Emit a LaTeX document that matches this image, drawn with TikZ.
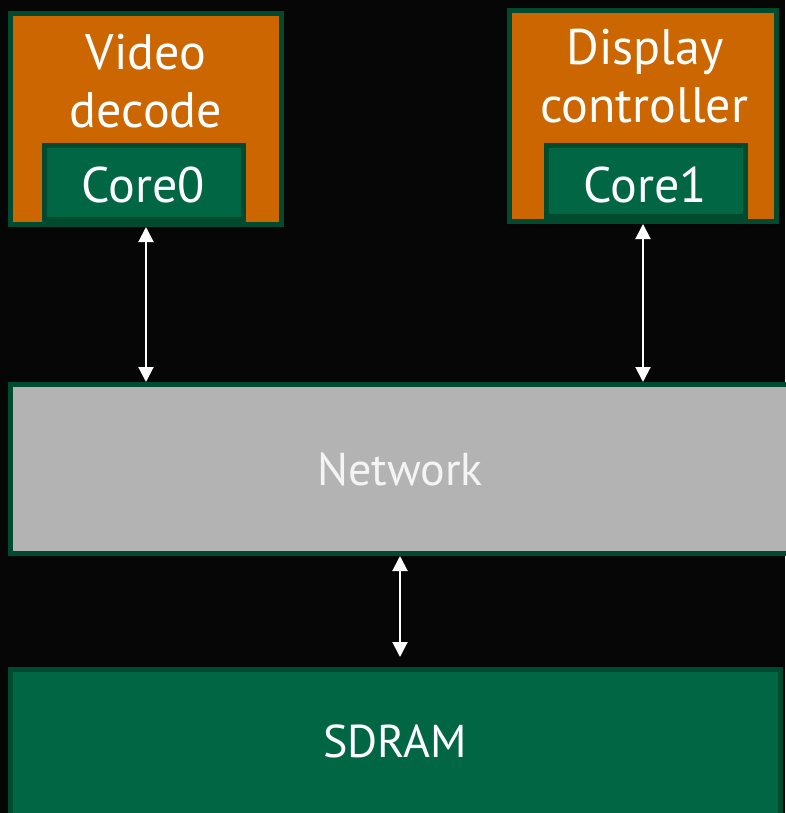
\documentclass[tikz,border=0pt]{standalone}
\usepackage{fontspec}
\setmainfont{PT Sans}
\usetikzlibrary{arrows.meta}

\definecolor{bgblack}{HTML}{060606}
\definecolor{blockorange}{HTML}{CC6600}
\definecolor{blockgreen}{HTML}{006644}
\definecolor{edgegreen}{HTML}{004A2F}
\definecolor{netgray}{HTML}{B3B3B3}
\definecolor{nettext}{HTML}{F4F4F4}

\tikzset{
  block/.style={draw=edgegreen, line width=5pt, inner sep=0pt, outer sep=2.5pt},
  unitbox/.style={block, fill=blockorange},
  corebox/.style={block, fill=blockgreen},
  netbox/.style={block, fill=netgray},
  membox/.style={block, fill=blockgreen},
  bigtext/.style={text=white, anchor=base, inner sep=0pt, font=\fontsize{50}{58}\selectfont},
  midtext/.style={anchor=base, inner sep=0pt, font=\fontsize{46}{54}\selectfont},
  link/.style={draw=white, line width=2pt, {Triangle[width=15pt,length=15pt]}-{Triangle[width=15pt,length=15pt]}}
}

\begin{document}
\begin{tikzpicture}[x=1pt, y=-1pt]
  % page and background
  \useasboundingbox (0,0) rectangle (785,813);
  \fill[bgblack] (0,0) rectangle (785,813);

  % processing units with their cores
  \node[unitbox, minimum width=271pt, minimum height=211pt] (vd) at (146,119) {};
  \node[corebox, minimum width=199pt, minimum height=74pt] (core0) at (144,182.5) {};
  \node[unitbox, minimum width=267pt, minimum height=211pt] (dc) at (643,116) {};
  \node[corebox, minimum width=199pt, minimum height=71pt] (core1) at (646,181) {};

  \node[bigtext] (vdtop) at (146,70) {Video};
  \node[bigtext] (vdbot) at (146,128) {decode};
  \node[bigtext] (c0text) at (143,202) {Core0};
  \node[bigtext] (dctop) at (645,65) {Display};
  \node[bigtext] (dcbot) at (644,123) {controller};
  \node[bigtext] (c1text) at (645,202) {Core1};

  % interconnect
  \node[netbox, minimum width=787pt, minimum height=169pt] (net) at (404,469) {};
  \node[midtext, text=nettext] (nettxt) at (400,485) {Network};

  % memory
  \node[membox, minimum width=770pt, minimum height=158pt] (sdram) at (395.5,748.5) {};
  \node[midtext, text=white] (sdramtxt) at (395,757) {SDRAM};

  % links
  \coordinate (memport) at (400,657);
  \draw[link] (vd.south) -- (vd.south |- net.north);
  \draw[link] (dc.south) -- (dc.south |- net.north);
  \draw[link] (net.south -| memport) -- (memport);
\end{tikzpicture}
\end{document}
